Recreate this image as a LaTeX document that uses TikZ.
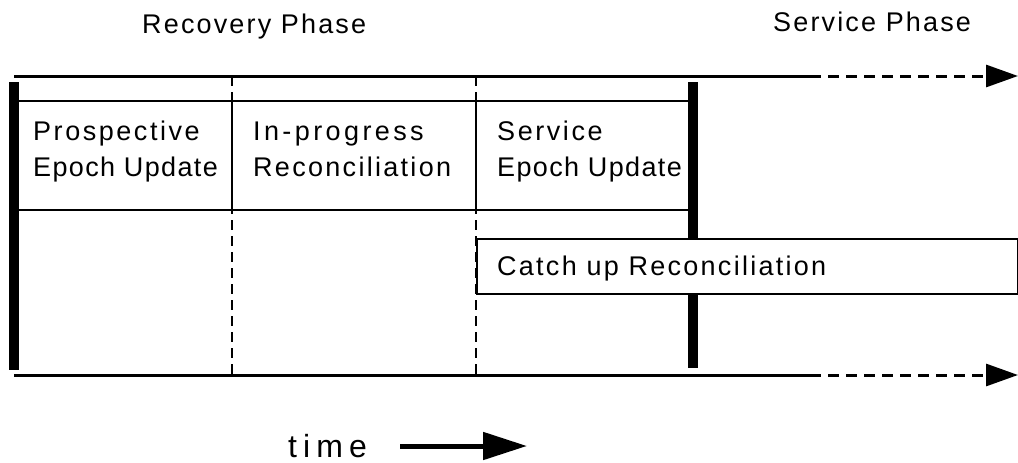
\documentclass[tikz,border=0pt]{standalone}
\usepackage{fontspec}
\setmainfont{Liberation Sans}
\usetikzlibrary{arrows.meta}
\begin{document}
\begin{tikzpicture}[x=1pt,y=-1pt,
  axis/.style={line width=3pt},
  axisdash/.style={line width=3pt,dash pattern=on 11pt off 7pt,-{Triangle[length=32pt,width=22pt]}},
  bar/.style={line width=10pt},
  sep/.style={line width=2pt,dash pattern=on 10pt off 6pt},
  boxline/.style={line width=2pt},
  lbl/.style={anchor=base west,inner sep=0pt,font=\fontsize{27}{33}\selectfont\addfontfeatures{LetterSpace=#1}},
  lbl/.default=7]
\useasboundingbox (0,0) rectangle (1018,463);
% axes
\coordinate (tl) at (14,76); \coordinate (tm) at (810,76); \coordinate (tr) at (1018,76);
\coordinate (bl) at (14,375); \coordinate (bm) at (810,375); \coordinate (br) at (1018,375);
\draw[axis] (tl) -- (tm);
\draw[axisdash] (tm) -- (tr);
\draw[axis] (bl) -- (bm);
\draw[axisdash] (bm) -- (br);
% dashed separators
\coordinate (s1t) at (232,76); \coordinate (s1b) at (232,375);
\coordinate (s2t) at (476,76); \coordinate (s2b) at (476,375);
\draw[sep] (s1t) -- (s1b);
\draw[sep] (s2t) -- (s2b);
% top boxes row
\coordinate (r1) at (14,101); \coordinate (r2) at (693,101);
\coordinate (r3) at (14,210); \coordinate (r4) at (693,210);
\coordinate (c1t) at (232,101); \coordinate (c1b) at (232,210);
\coordinate (c2t) at (476,101); \coordinate (c2b) at (476,210);
\draw[boxline] (r1) -- (r2);
\draw[boxline] (r3) -- (r4);
\draw[boxline] (c1t) -- (c1b);
\draw[boxline] (c2t) -- (c2b);
% thick bars
\coordinate (lb1) at (14,82); \coordinate (lb2) at (14,370);
\coordinate (rb1) at (693,82); \coordinate (rb2) at (693,368);
\draw[bar] (lb1) -- (lb2);
\draw[bar] (rb1) -- (rb2);
% catch up box (over the bar)
\node[draw,fill=white,line width=2pt,minimum width=541pt,minimum height=55pt,anchor=north west,inner sep=0pt] (cu) at (476,238) {};
\node[lbl=8.4] (cut) at (497,275) {Catch up Reconciliation};
% labels
\node[lbl=9.4] (p1) at (33,140) {Prospective};
\node[lbl=5] (p2) at (33,176) {Epoch Update};
\node[lbl=12.6] (i1) at (253,140) {In-progress};
\node[lbl=8.5] (i2) at (253,176) {Reconciliation};
\node[lbl=9.5] (v1) at (497,140) {Service};
\node[lbl=5] (v2) at (497,176) {Epoch Update};
\node[lbl=8] (rp) at (142,34) {Recovery Phase};
\node[lbl=8] (sp) at (773,31) {Service Phase};
% time
\node[anchor=base west,inner sep=0pt,font=\fontsize{32}{36}\selectfont\addfontfeatures{LetterSpace=19}] (tm1) at (288,457) {time};
\coordinate (ta) at (400,446); \coordinate (tb) at (527,446);
\draw[line width=5pt,-{Triangle[length=44pt,width=27pt]}] (ta) -- (tb);
\end{tikzpicture}
\end{document}
